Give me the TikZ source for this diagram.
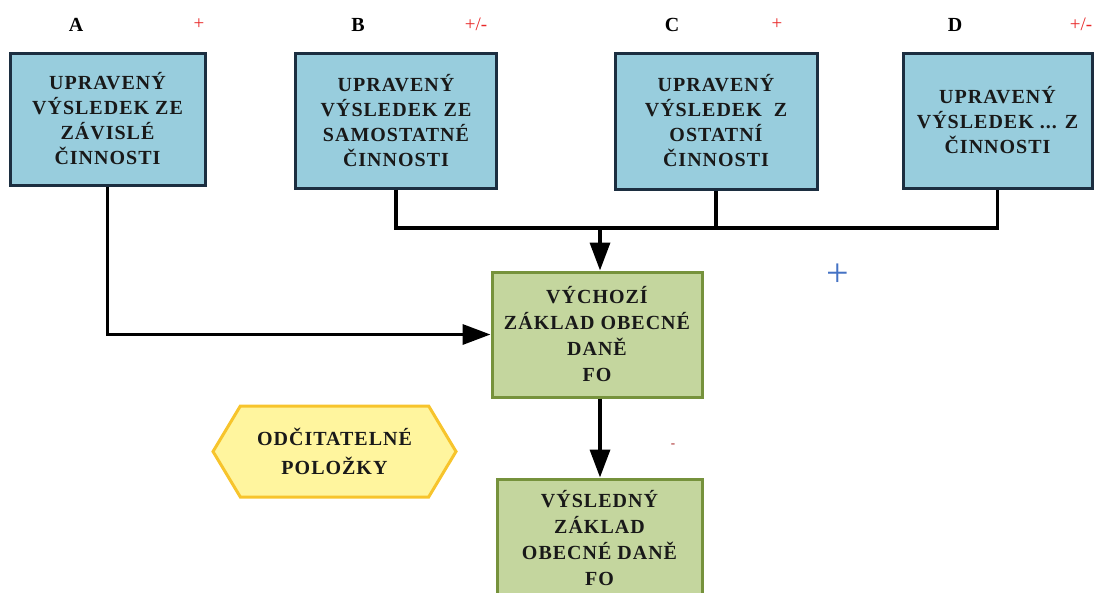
\documentclass[tikz,border=0pt]{standalone}
\usepackage{fontspec}
\setmainfont{Liberation Serif}
\newfontfamily\boxfont[LetterSpace=5]{Liberation Serif}
\usepackage{xcolor}
\usetikzlibrary{arrows.meta,positioning,shapes.symbols}
\definecolor{srcfill}{RGB}{152,205,221}
\definecolor{srcedge}{RGB}{28,46,64}
\definecolor{basefill}{RGB}{196,214,158}
\definecolor{baseedge}{RGB}{118,146,60}
\definecolor{hexfill}{RGB}{255,245,158}
\definecolor{hexedge}{RGB}{247,196,44}
\definecolor{sgnred}{RGB}{232,40,40}
\definecolor{sgnblue}{RGB}{68,114,196}
\tikzset{
  srcbox/.style={draw=srcedge,fill=srcfill,line width=3pt,align=center,
                 text=black!90,font=\boxfont\bfseries\fontsize{20}{25}\selectfont},
  basebox/.style={draw=baseedge,fill=basefill,line width=3pt,align=center,
                  text=black!90,font=\boxfont\bfseries\fontsize{20}{26}\selectfont},
  hexbox/.style={signal,signal to=west and east,signal pointer angle=118,
                 draw=hexedge,fill=hexfill,line width=3pt,align=center,
                 text=black!90,font=\boxfont\bfseries\fontsize{20}{29}\selectfont},
  colhead/.style={font=\bfseries\fontsize{20}{20}\selectfont},
  sgn/.style={text=sgnred,font=\fontsize{19}{19}\selectfont},
  conn/.style={line width=3.5pt,black},
  arr/.style={conn,-{Triangle[length=28pt,width=20pt]}}
}
\begin{document}
\begin{tikzpicture}[x=1pt,y=-1pt]
\useasboundingbox (0,0) rectangle (1100,592);
\clip (0,0) rectangle (1100,592);

% column heads
\node[colhead] (labA) at (76,25) {A};
\node[sgn]     (sgnA) at (199,24) {+};
\node[colhead] (labB) at (358,25) {B};
\node[sgn]     (sgnB) at (476,24) {+/-};
\node[colhead] (labC) at (672,25) {C};
\node[sgn]     (sgnC) at (777,24) {+};
\node[colhead] (labD) at (955,25) {D};
\node[sgn]     (sgnD) at (1081,24) {+/-};

% income boxes
\node[srcbox,minimum width=195pt,minimum height=132pt] (zavisla) at (107.5,119)
  {UPRAVENÝ\\VÝSLEDEK ZE\\ZÁVISLÉ\\ČINNOSTI};
\node[srcbox,minimum width=201pt,minimum height=135pt] (samostatna) at (396,120.5)
  {UPRAVENÝ\\VÝSLEDEK ZE\\SAMOSTATNÉ\\ČINNOSTI};
\node[srcbox,minimum width=202pt,minimum height=136pt] (ostatni) at (716,121)
  {UPRAVENÝ\\VÝSLEDEK\ \ Z\\OSTATNÍ\\ČINNOSTI};
\node[srcbox,minimum width=189pt,minimum height=135pt] (dalsi) at (997.5,120.5)
  {UPRAVENÝ\\VÝSLEDEK ... Z\\ČINNOSTI};

% tax base
\node[basebox,minimum width=210pt,minimum height=125pt] (vychozi) at (597,334.5)
  {VÝCHOZÍ\\ZÁKLAD OBECNÉ\\DANĚ\\FO};
\node[basebox,minimum width=205pt,minimum height=118pt] (vysledny) at (599.5,538)
  {VÝSLEDNÝ\\ZÁKLAD\\OBECNÉ DANĚ\\FO};
\node[hexbox,minimum width=243pt,minimum height=91pt] (odcitatelne) at (334.5,451.5)
  {ODČITATELNÉ\\POLOŽKY};

\node[text=sgnblue,font=\fontsize{40}{40}\selectfont] (plus) at (838,275) {+};
\node[text=sgnred!70!black,font=\fontsize{13}{13}\selectfont] (minus) at (673,446) {-};

% connectors
\coordinate (bus) at (600,228);
\draw[conn] (samostatna.south) |- (bus) -| (dalsi.south);
\draw[conn] (ostatni.south) -- (ostatni.south |- bus);
\draw[arr] (bus) -- (bus |- vychozi.north);
\draw[arr] (zavisla.south) |- (vychozi.west);
\draw[arr] (bus |- vychozi.south) -- (bus |- vysledny.north);
\end{tikzpicture}
\end{document}
